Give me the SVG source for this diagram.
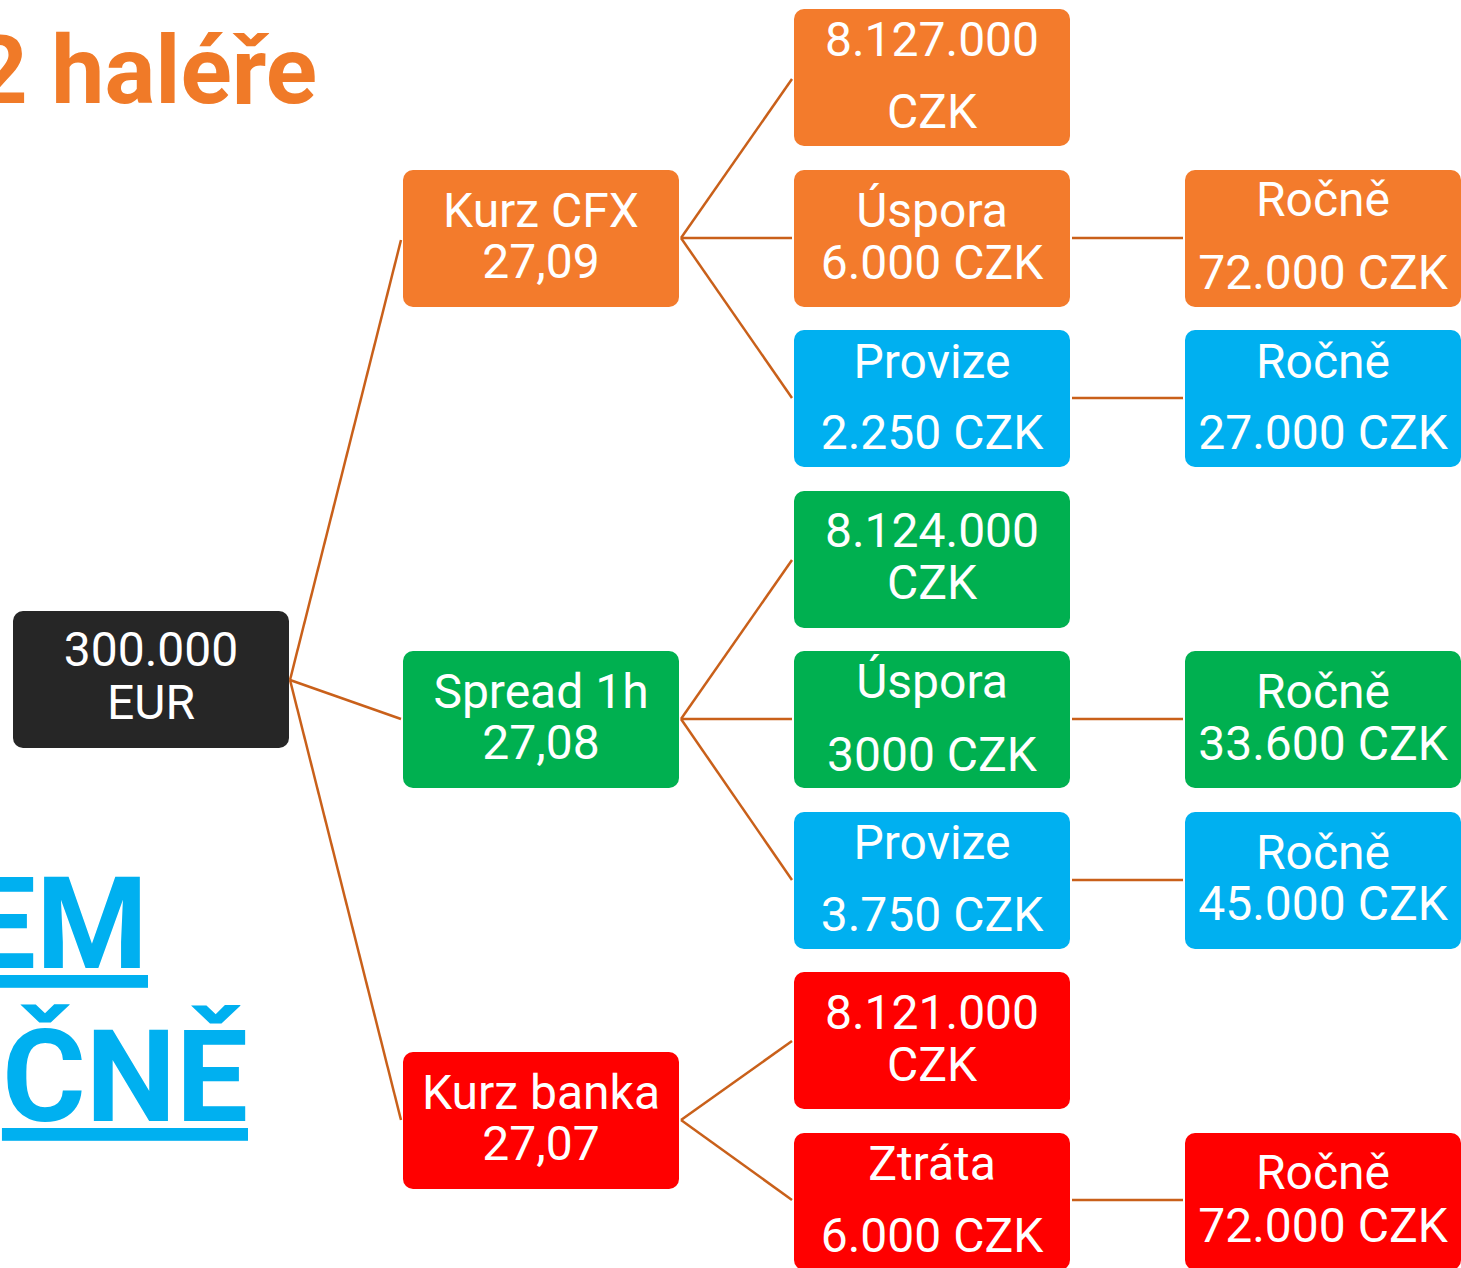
<svg xmlns="http://www.w3.org/2000/svg" width="1461" height="1268" viewBox="0 0 1461 1268">
<style>
.n{stroke:none}
.or{fill:#F37B2C}
.bl{fill:#00B0F0}
.gr{fill:#00B050}
.rd{fill:#FF0000}
.dk{fill:#262626}
.t{font-family:Roboto,"Liberation Sans",sans-serif;font-size:48px;fill:#FFFFFF;text-anchor:middle}
.c{stroke:#C9601A;stroke-width:2.5;fill:none}
.big{font-family:Roboto,"Liberation Sans",sans-serif;font-weight:bold}
</style>
<rect width="1461" height="1268" fill="#FFFFFF"/>
<text class="big" x="317" y="103" font-size="95" fill="#F07A28" text-anchor="end">2 haléře</text>
<text class="big" x="148" y="968" font-size="128" fill="#00B0F0" text-anchor="end" text-decoration="underline">EM</text>
<text class="big" x="248" y="1121" font-size="128" fill="#00B0F0" text-anchor="end" text-decoration="underline">ČNĚ</text>
<g id="connectors">
<line class="c" x1="290" y1="680" x2="401" y2="240"/>
<line class="c" x1="290" y1="680" x2="401" y2="719"/>
<line class="c" x1="290" y1="680" x2="401" y2="1120"/>
<line class="c" x1="681" y1="238" x2="792" y2="79"/>
<line class="c" x1="681" y1="238" x2="792" y2="238"/>
<line class="c" x1="681" y1="238" x2="792" y2="398"/>
<line class="c" x1="681" y1="719" x2="792" y2="560"/>
<line class="c" x1="681" y1="719" x2="792" y2="719"/>
<line class="c" x1="681" y1="719" x2="792" y2="880"/>
<line class="c" x1="681" y1="1120" x2="792" y2="1041"/>
<line class="c" x1="681" y1="1120" x2="792" y2="1200"/>
<line class="c" x1="1072" y1="238" x2="1183" y2="238"/>
<line class="c" x1="1072" y1="398" x2="1183" y2="398"/>
<line class="c" x1="1072" y1="719" x2="1183" y2="719"/>
<line class="c" x1="1072" y1="880" x2="1183" y2="880"/>
<line class="c" x1="1072" y1="1200" x2="1183" y2="1200"/>
</g>
<g id="root"><rect class="dk" x="13" y="611" width="276" height="137" rx="10"/><text class="t" x="151" y="666">300.000</text><text class="t" x="151" y="719">EUR</text></g>
<g id="kurz-cfx"><rect class="or" x="403" y="170" width="276" height="137" rx="10"/><text class="t" x="541" y="227">Kurz CFX</text><text class="t" x="541" y="278">27,09</text></g>
<g id="spread"><rect class="gr" x="403" y="651" width="276" height="137" rx="10"/><text class="t" x="541" y="708">Spread 1h</text><text class="t" x="541" y="759">27,08</text></g>
<g id="kurz-banka"><rect class="rd" x="403" y="1052" width="276" height="137" rx="10"/><text class="t" x="541" y="1109">Kurz banka</text><text class="t" x="541" y="1160">27,07</text></g>
<g id="cfx-total"><rect class="or" x="794" y="9" width="276" height="137" rx="10"/><text class="t" x="932" y="56">8.127.000</text><text class="t" x="932" y="128">CZK</text></g>
<g id="cfx-uspora"><rect class="or" x="794" y="170" width="276" height="137" rx="10"/><text class="t" x="932" y="227">Úspora</text><text class="t" x="932" y="279">6.000 CZK</text></g>
<g id="cfx-provize"><rect class="bl" x="794" y="330" width="276" height="137" rx="10"/><text class="t" x="932" y="378">Provize</text><text class="t" x="932" y="449">2.250 CZK</text></g>
<g id="spread-total"><rect class="gr" x="794" y="491" width="276" height="137" rx="10"/><text class="t" x="932" y="547">8.124.000</text><text class="t" x="932" y="599">CZK</text></g>
<g id="spread-uspora"><rect class="gr" x="794" y="651" width="276" height="137" rx="10"/><text class="t" x="932" y="698">Úspora</text><text class="t" x="932" y="771">3000 CZK</text></g>
<g id="spread-provize"><rect class="bl" x="794" y="812" width="276" height="137" rx="10"/><text class="t" x="932" y="859">Provize</text><text class="t" x="932" y="931">3.750 CZK</text></g>
<g id="banka-total"><rect class="rd" x="794" y="972" width="276" height="137" rx="10"/><text class="t" x="932" y="1029">8.121.000</text><text class="t" x="932" y="1081">CZK</text></g>
<g id="banka-ztrata"><rect class="rd" x="794" y="1133" width="276" height="137" rx="10"/><text class="t" x="932" y="1180">Ztráta</text><text class="t" x="932" y="1252">6.000 CZK</text></g>
<g id="cfx-rocne"><rect class="or" x="1185" y="170" width="276" height="137" rx="10"/><text class="t" x="1323" y="216">Ročně</text><text class="t" x="1323" y="289">72.000 CZK</text></g>
<g id="cfx-provize-rocne"><rect class="bl" x="1185" y="330" width="276" height="137" rx="10"/><text class="t" x="1323" y="378">Ročně</text><text class="t" x="1323" y="449">27.000 CZK</text></g>
<g id="spread-rocne"><rect class="gr" x="1185" y="651" width="276" height="137" rx="10"/><text class="t" x="1323" y="708">Ročně</text><text class="t" x="1323" y="760">33.600 CZK</text></g>
<g id="spread-provize-rocne"><rect class="bl" x="1185" y="812" width="276" height="137" rx="10"/><text class="t" x="1323" y="869">Ročně</text><text class="t" x="1323" y="920">45.000 CZK</text></g>
<g id="banka-rocne"><rect class="rd" x="1185" y="1133" width="276" height="137" rx="10"/><text class="t" x="1323" y="1189">Ročně</text><text class="t" x="1323" y="1242">72.000 CZK</text></g>
</svg>
